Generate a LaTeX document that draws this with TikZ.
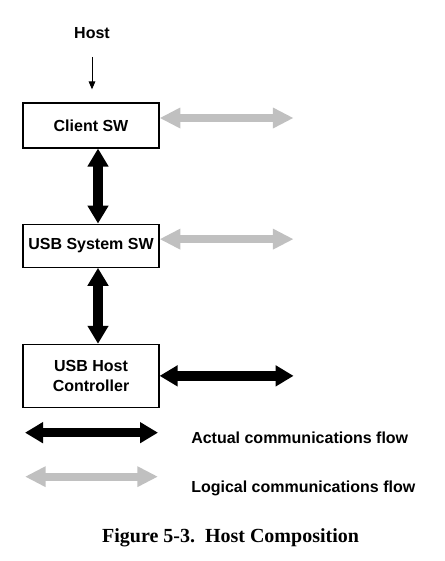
\documentclass[tikz,border=0pt]{standalone}
\usepackage{fontspec}
\setmainfont{Liberation Serif}
\setsansfont{Liberation Sans}
\usetikzlibrary{arrows.meta, positioning}
\definecolor{logicgray}{RGB}{192,192,192}

\begin{document}
\begin{tikzpicture}[
        layer/.style={rectangle, draw, line width=0.9pt, minimum width=102pt, align=center, inner sep=2pt, font=\sffamily\bfseries\fontsize{12}{15}\selectfont},
        tag/.style={inner sep=0pt, font=\sffamily\bfseries\fontsize{12}{15}\selectfont},
        actual/.style={line width=7pt, {Triangle[length=13.5pt,width=15pt]}-{Triangle[length=13.5pt,width=15pt]}},
        logical/.style={logicgray, line width=6pt, {Triangle[length=15.5pt,width=14.5pt]}-{Triangle[length=15.5pt,width=14.5pt]}},
        hostarrow/.style={line width=0.75pt, -{Triangle[length=6pt,width=5pt]}}
    ]
        \useasboundingbox (0,0) rectangle (333pt,-420.75pt);

        % Nodes
        \node[tag] (host) at (69pt,-24.75pt) {Host};
        \node[layer, minimum height=33.75pt] (client) at (68.25pt,-94.1pt) {Client SW};
        \node[layer, minimum height=32.25pt, below=56.25pt of client] (syssw) {USB System SW};
        \node[layer, minimum height=47.25pt, below=57pt of syssw] (hostctl) {USB Host\\Controller};

        % Free ends
        \coordinate[below=13.5pt of host.south] (hostfrom);
        \coordinate[above=9.75pt of client.north] (hostto);
        \coordinate[right=100.5pt of client.east, yshift=5.6pt] (clientpeer);
        \coordinate[right=100.5pt of syssw.east, yshift=4.9pt] (sysswpeer);
        \coordinate[right=100.5pt of hostctl.east] (hostctlpeer);

        % Paths
        \draw[hostarrow] (hostfrom) -- (hostfrom |- hostto);
        \draw[actual] ([xshift=5.25pt]client.south) -- ([xshift=5.25pt]syssw.north);
        \draw[actual] ([xshift=5.25pt]syssw.south) -- ([xshift=5.25pt]hostctl.north);
        \draw[logical] (client.east |- clientpeer) -- (clientpeer);
        \draw[logical] (syssw.east |- sysswpeer) -- (sysswpeer);
        \draw[actual] (hostctl.east) -- (hostctlpeer);

        % Legend
        \coordinate (actualfrom) at (18.75pt,-324.5pt);
        \coordinate (actualto) at (118.5pt,-324.5pt);
        \coordinate (logicalfrom) at (18.75pt,-357.5pt);
        \coordinate (logicalto) at (118.5pt,-357.5pt);
        \draw[actual] (actualfrom) -- (actualto);
        \draw[logical] (logicalfrom) -- (logicalto);
        \node[tag, anchor=base west] (actualtxt) at (143.25pt,-332.25pt) {Actual communications flow};
        \node[tag, anchor=base west] (logicaltxt) at (143.25pt,-369.5pt) {Logical communications flow};

        % Caption
        \node[anchor=base, inner sep=0pt, font=\bfseries\fontsize{15}{18}\selectfont] (caption) at (172.9pt,-407pt) {Figure 5-3.\ \ Host Composition};

    \end{tikzpicture}
\end{document}
